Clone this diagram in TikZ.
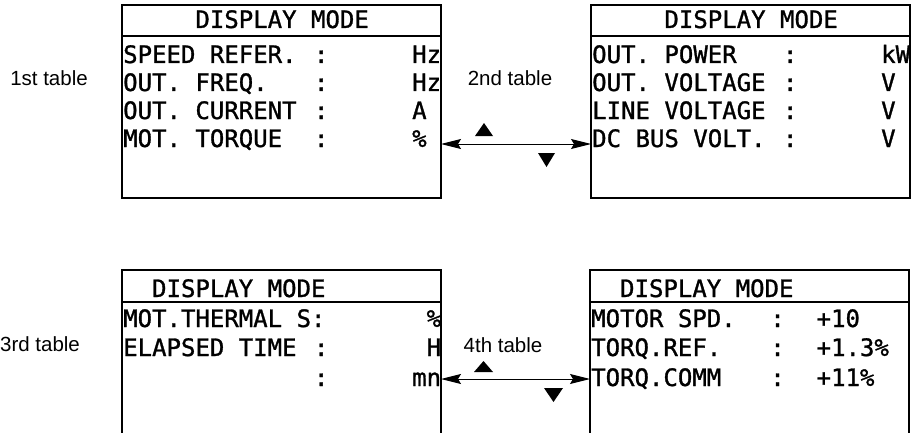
\documentclass[tikz,border=0pt]{standalone}
\usepackage{fontspec}
\setmainfont{Liberation Sans}
\newfontfamily\lcdfont[FakeBold=1.2]{DejaVu Sans Mono}
\usetikzlibrary{arrows.meta}
\frenchspacing

% one line of a display: name prefix, left x, baseline y, list of column/text pairs
\newcommand\lcdline[4]{%
  \foreach \c/\t [count=\i] in {#4} {\node[lcd] (#1-\i) at ({#2+\c*14.45},#3) {\t};}}

\begin{document}
\begin{tikzpicture}[x=1pt,y=-1pt,
  lcd/.style={anchor=base west, inner sep=0pt, font=\lcdfont\fontsize{24}{24}\selectfont},
  caption/.style={font=\fontsize{20.5}{20.5}\selectfont, inner sep=0pt},
  frame/.style={draw=black, line width=1.2pt},
  headbar/.style={draw=black, line width=2.4pt},
  flow/.style={line width=1pt,
    {Stealth[length=20pt,width=10pt,inset=3pt]}-{Stealth[length=20pt,width=10pt,inset=3pt]}},
  keymark/.style={fill=black}]
\useasboundingbox (0,0) rectangle (917,433);

% ---- first display ----
\draw[frame] (122,36) rectangle (441,198);
\draw[headbar] (122,5) rectangle (441,36);
\lcdline{h1}{123}{28}{5/DISPLAY MODE}
\lcdline{a1}{123}{63}{0/SPEED REFER., 13.2/:, 20/Hz}
\lcdline{a2}{123}{91}{0/OUT. FREQ., 13.2/:, 20/Hz}
\lcdline{a3}{123}{119}{0/OUT. CURRENT, 13.2/:, 20/A}
\lcdline{a4}{123}{147}{0/MOT. TORQUE, 13.2/:, 20/\%}

% ---- second display ----
\draw[frame] (591,36) rectangle (910,198);
\draw[headbar] (591,5) rectangle (910,36);
\lcdline{h2}{592}{28}{5/DISPLAY MODE}
\lcdline{b1}{592}{63}{0/OUT. POWER, 13.2/:, 20/kW}
\lcdline{b2}{592}{91}{0/OUT. VOLTAGE, 13.2/:, 20/V}
\lcdline{b3}{592}{119}{0/LINE VOLTAGE, 13.2/:, 20/V}
\lcdline{b4}{592}{147}{0/DC BUS VOLT., 13.2/:, 20/V}

% ---- third display (open at the bottom) ----
\draw[frame] (122,302) -- (122,433) (441,302) -- (441,433);
\draw[headbar] (122,270) rectangle (441,302);
\lcdline{h3}{123}{297}{2/DISPLAY MODE}
\lcdline{c1}{123}{327}{0/MOT.THERMAL S:, 21/\%}
\lcdline{c2}{123}{356}{0/ELAPSED TIME, 13.2/:, 21/H}
\lcdline{c3}{123}{386}{13.2/:, 20/mn}

% ---- fourth display (open at the bottom) ----
\draw[frame] (590,302) -- (590,433) (909,302) -- (909,433);
\draw[headbar] (590,270) rectangle (909,302);
\lcdline{h4}{591}{297}{2/DISPLAY MODE}
\lcdline{d1}{591}{327}{0/MOTOR SPD., 12.4/:, 15.6/+10}
\lcdline{d2}{591}{356}{0/TORQ.REF., 12.4/:, 15.6/+1.3\%}
\lcdline{d3}{591}{386}{0/TORQ.COMM, 12.4/:, 15.6/+11\%}

% ---- captions ----
\node[caption] (cap1) at (49,78) {1st table};
\node[caption] (cap2) at (510,78) {2nd table};
\node[caption] (cap3) at (40,344) {3rd table};
\node[caption] (cap4) at (503,345) {4th table};

% ---- up/down navigation between displays ----
\coordinate (p1) at (441,144);
\coordinate (p2) at (591,144);
\draw[flow] (p1) -- (p2);
\fill[keymark] (475,136) -- (493,136) -- (484,123) -- cycle;
\fill[keymark] (538,153) -- (555,153) -- (546.5,167) -- cycle;

\coordinate (q1) at (441,379);
\coordinate (q2) at (590,379);
\draw[flow] (q1) -- (q2);
\fill[keymark] (474,372) -- (493,372) -- (483.5,361) -- cycle;
\fill[keymark] (544,388) -- (563,388) -- (553.5,402) -- cycle;
\end{tikzpicture}
\end{document}
